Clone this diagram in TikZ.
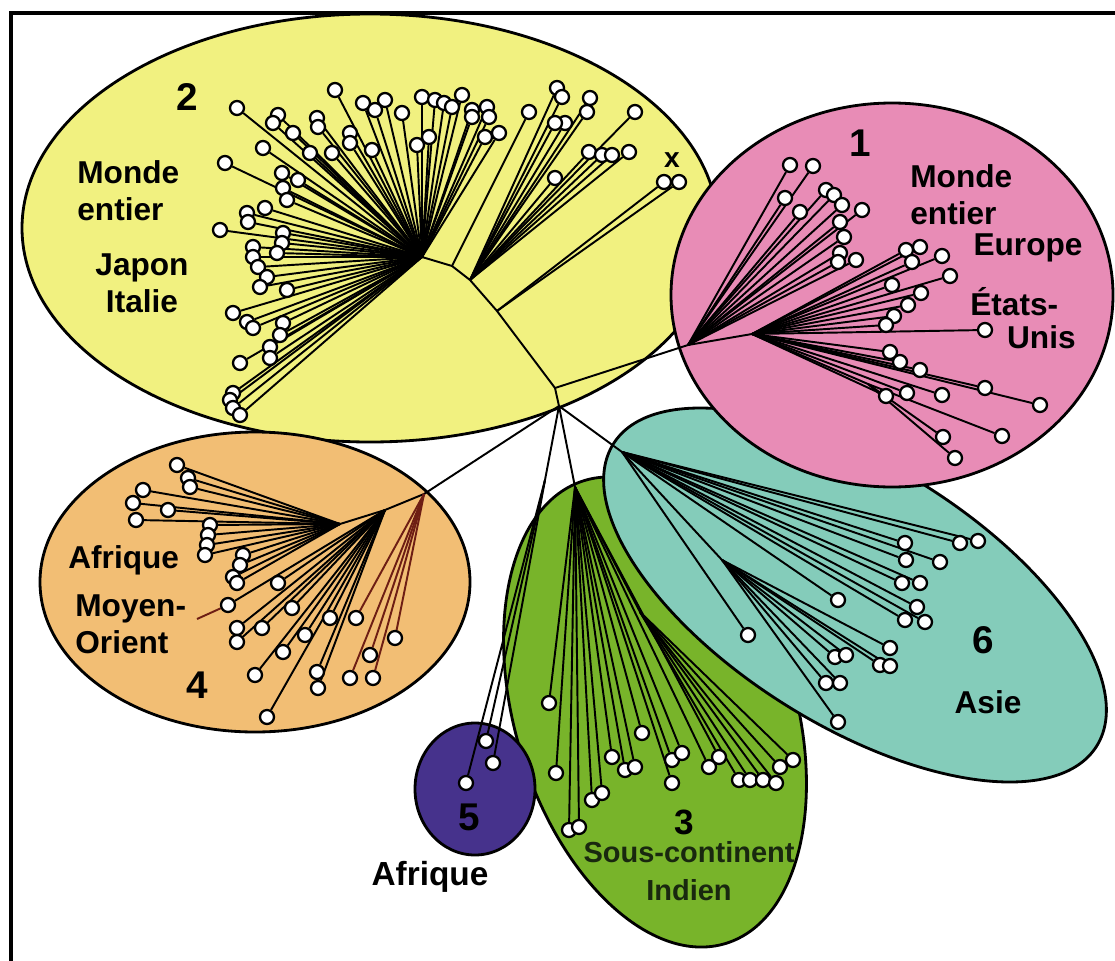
\documentclass[tikz,border=0pt]{standalone}
\usepackage{fontspec}
\setmainfont{Liberation Sans}
\usetikzlibrary{positioning}

\definecolor{yellowfill}{RGB}{241,241,128}
\definecolor{pinkfill}{RGB}{232,140,182}
\definecolor{orangefill}{RGB}{242,190,116}
\definecolor{greenfill}{RGB}{120,180,42}
\definecolor{tealfill}{RGB}{132,204,186}
\definecolor{purplefill}{RGB}{70,50,140}
\definecolor{brownline}{RGB}{110,30,20}
\definecolor{textgreen}{RGB}{25,40,15}

\pgfdeclarelayer{blobs}
\pgfdeclarelayer{edges}
\pgfsetlayers{blobs,edges,main}

\begin{document}
\begin{tikzpicture}[
  x=0.02cm, y=-0.02cm,
  blob/.style={draw, line width=1.6pt},
  branch/.style={line width=1.1pt},
  leaf/.style={circle, draw, fill=white, line width=1.3pt, inner sep=0pt, minimum size=0.28cm},
  lbl/.style={font=\bfseries\fontsize{18}{21}\selectfont, inner sep=0pt},
  num/.style={font=\bfseries\fontsize{22}{24}\selectfont, inner sep=0pt}
]
\useasboundingbox (0,0) rectangle (1115,960);
\draw[line width=2.2pt] (11,1000) -- (11,13) -- (1130,13);

% clusters
\begin{pgfonlayer}{blobs}
\draw[blob, fill=yellowfill] (370,228) ellipse [x radius=348, y radius=214];
\draw[blob, fill=orangefill] (255,582) ellipse [x radius=215, y radius=150];
\draw[blob, fill=greenfill, rotate around={17:(655,712)}] (655,712) ellipse [x radius=140, y radius=242];
\draw[blob, fill=tealfill, rotate around={-32:(855,595)}] (855,595) ellipse [x radius=285, y radius=130];
\draw[blob, fill=pinkfill] (892,295) ellipse [x radius=221, y radius=192];
\draw[blob, fill=purplefill] (475,789) ellipse [x radius=60, y radius=66];
\end{pgfonlayer}

% inner nodes of the tree
\coordinate (root) at (555,388);
\coordinate (fork) at (559,406);
\coordinate (hubY) at (422,257);
\coordinate (cY1) at (452,266);
\coordinate (cY2) at (470,280);
\coordinate (cY3) at (497,311);
\coordinate (hubP) at (688,345);
\coordinate (hubP2) at (752,334);
\coordinate (hubP3) at (868,384);
\coordinate (hubO) at (424,494);
\coordinate (midO) at (385,510);
\coordinate (hubO2) at (340,524);
\coordinate (hubG) at (575,487);
\coordinate (hubG2) at (640,612);
\coordinate (hubV) at (545,480);
\coordinate (hubT) at (622,452);
\coordinate (hubT2) at (722,560);
\coordinate (moyen) at (197,619);

\begin{pgfonlayer}{edges}
\draw[branch] (hubY) -- (cY1) -- (cY2) -- (cY3) -- (root);
\draw[branch] (root) -- (fork);
\draw[branch] (root) -- (hubP) -- (hubP2) -- (hubP3);
\draw[branch] (fork) -- (hubO) -- (midO) -- (hubO2);
\draw[branch] (fork) -- (hubV);
\draw[branch] (fork) -- (hubG) -- (hubG2);
\draw[branch] (fork) -- (hubT) -- (hubT2);
\end{pgfonlayer}

% cluster 2
\foreach \px/\py [count=\i] in {237/108, 278/115, 273/123, 293/133, 317/118, 318/127, 335/90, 350/133, 350/143, 332/153, 310/153, 263/148, 225/163, 282/173, 298/180, 283/188, 287/200, 265/208, 247/213, 248/222, 283/233, 282/243, 220/230, 253/247, 277/253, 253/257, 258/267, 267/277, 260/287, 287/290, 233/313, 247/322, 253/328, 283/323, 280/335, 270/347, 240/363, 270/358, 233/393, 230/400, 233/408, 240/415, 363/103, 385/100, 375/110, 402/113, 372/150, 422/97, 435/100, 444/103, 452/107, 462/95, 472/110, 487/107, 489/117, 499/133, 485/137, 472/117, 429/137, 417/145}{
  \node[leaf] (ya\i) at (\px,\py) {};
  \begin{pgfonlayer}{edges}\draw[branch] (hubY) -- (ya\i);\end{pgfonlayer}
}
\node[leaf] (yb1) at (529,112) {};
\begin{pgfonlayer}{edges}\draw[branch] (cY1) -- (yb1);\end{pgfonlayer}
\foreach \px/\py [count=\i] in {557/88, 562/97, 590/98, 587/112, 565/123, 555/123, 555/178, 589/152, 602/155, 612/155, 629/152, 635/112}{
  \node[leaf] (yc\i) at (\px,\py) {};
  \begin{pgfonlayer}{edges}\draw[branch] (cY2) -- (yc\i);\end{pgfonlayer}
}
\foreach \px/\py [count=\i] in {664/182, 679/182}{
  \node[leaf] (yd\i) at (\px,\py) {};
  \begin{pgfonlayer}{edges}\draw[branch] (cY3) -- (yd\i);\end{pgfonlayer}
}

% cluster 1
\foreach \px/\py [count=\i] in {790/165, 813/166, 785/198, 800/212, 826/190, 834/195, 842/205, 862/210, 840/222, 844/237, 840/253, 838/262, 856/260}{
  \node[leaf] (pa\i) at (\px,\py) {};
  \begin{pgfonlayer}{edges}\draw[branch] (hubP) -- (pa\i);\end{pgfonlayer}
}
\foreach \px/\py [count=\i] in {906/250, 920/247, 942/256, 912/262, 950/276, 892/285, 921/293, 908/305, 894/316, 886/325, 985/330, 890/352, 900/362, 920/370, 985/388, 1040/405, 886/396, 907/393, 942/395}{
  \node[leaf] (pb\i) at (\px,\py) {};
  \begin{pgfonlayer}{edges}\draw[branch] (hubP2) -- (pb\i);\end{pgfonlayer}
}
\foreach \px/\py [count=\i] in {943/437, 1002/436, 955/458}{
  \node[leaf] (pc\i) at (\px,\py) {};
  \begin{pgfonlayer}{edges}\draw[branch] (hubP3) -- (pc\i);\end{pgfonlayer}
}

% cluster 4
\foreach \px/\py [count=\i] in {177/465, 188/478, 190/487, 143/490, 133/503, 168/510, 136/520, 210/525, 208/535, 207/545, 205/555, 243/555, 240/565, 233/577, 237/583}{
  \node[leaf] (oa\i) at (\px,\py) {};
  \begin{pgfonlayer}{edges}\draw[branch] (hubO2) -- (oa\i);\end{pgfonlayer}
}
\foreach \px/\py [count=\i] in {278/583, 228/605, 292/608, 237/628, 237/642, 262/628, 305/635, 283/652, 255/675, 267/717, 317/672, 318/688, 330/618}{
  \node[leaf] (ob\i) at (\px,\py) {};
  \begin{pgfonlayer}{edges}\draw[branch] (midO) -- (ob\i);\end{pgfonlayer}
}
\begin{pgfonlayer}{edges}\draw[branch, brownline] (ob2) -- (moyen);\end{pgfonlayer}
\foreach \px/\py [count=\i] in {356/618, 350/678, 373/678, 370/655, 395/638}{
  \node[leaf] (oc\i) at (\px,\py) {};
  \begin{pgfonlayer}{edges}\draw[branch, brownline] (hubO) -- (oc\i);\end{pgfonlayer}
}

% cluster 5
\foreach \px/\py [count=\i] in {486/741, 493/763, 466/783}{
  \node[leaf] (v\i) at (\px,\py) {};
  \begin{pgfonlayer}{edges}\draw[branch] (hubV) -- (v\i);\end{pgfonlayer}
}

% cluster 3
\foreach \px/\py [count=\i] in {549/703, 556/773, 569/830, 579/827, 592/800, 602/793, 612/757, 625/770, 635/767, 642/733, 672/760, 682/753, 672/783, 709/767, 719/757}{
  \node[leaf] (ga\i) at (\px,\py) {};
  \begin{pgfonlayer}{edges}\draw[branch] (hubG) -- (ga\i);\end{pgfonlayer}
}
\foreach \px/\py [count=\i] in {739/780, 750/780, 763/780, 776/783, 780/767, 793/760}{
  \node[leaf] (gb\i) at (\px,\py) {};
  \begin{pgfonlayer}{edges}\draw[branch] (hubG2) -- (gb\i);\end{pgfonlayer}
}

% cluster 6
\foreach \px/\py [count=\i] in {748/635, 838/600, 905/543, 960/543, 978/541, 906/560, 940/562, 902/583, 920/583, 917/607, 905/620, 925/622}{
  \node[leaf] (ta\i) at (\px,\py) {};
  \begin{pgfonlayer}{edges}\draw[branch] (hubT) -- (ta\i);\end{pgfonlayer}
}
\foreach \px/\py [count=\i] in {890/648, 880/665, 890/666, 835/657, 846/655, 826/683, 840/683, 838/722}{
  \node[leaf] (tb\i) at (\px,\py) {};
  \begin{pgfonlayer}{edges}\draw[branch] (hubT2) -- (tb\i);\end{pgfonlayer}
}

% labels
\node[num] (n2) at (187,97) {2};
\node[lbl, align=left, anchor=west] (mondeY) at (77,191) {Monde\\entier};
\node[lbl, align=center] (japon) at (142,283) {Japon\\Italie};
\node[font=\bfseries\fontsize{16}{16}\selectfont, inner sep=0pt] (xmark) at (672,160) {x};
\node[num] (n1) at (860,143) {1};
\node[lbl, align=left, anchor=west] (mondeP) at (910,195) {Monde\\entier};
\node[lbl] (europe) at (1028,248) {Europe};
\node[lbl, anchor=west] (etats) at (970,302) {États-};
\node[lbl, anchor=east] (unis) at (1076,337) {Unis};
\node[lbl, anchor=west] (afriqueO) at (68,560) {Afrique};
\node[lbl, align=left, anchor=west] (moyenlbl) at (75,624) {Moyen-\\Orient};
\node[num] (n4) at (197,685) {4};
\node[num] (n5) at (469,817) {5};
\node[lbl, font=\bfseries\fontsize{19}{21}\selectfont] (afriqueV) at (430,877) {Afrique};
\node[num, font=\bfseries\fontsize{20}{22}\selectfont] (n3) at (684,822) {3};
\node[lbl, align=center, text=textgreen, font=\bfseries\fontsize{16.5}{21.5}\selectfont] (sous) at (689,871) {Sous-continent\\Indien};
\node[num] (n6) at (983,640) {6};
\node[lbl] (asie) at (988,702) {Asie};
\end{tikzpicture}
\end{document}
